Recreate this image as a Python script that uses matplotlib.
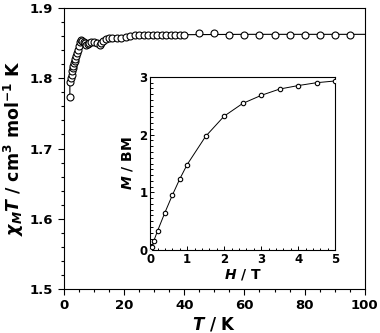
import matplotlib
matplotlib.use("Agg")
import matplotlib.pyplot as plt
from matplotlib.ticker import MultipleLocator

# ---- data: chi_M T vs T ----
T_main = [2.0, 2.2, 2.4, 2.6, 2.8, 3.0, 3.2, 3.4, 3.6, 3.8, 4.0, 4.3, 4.6, 5.0,
          5.4, 5.8, 6.2, 6.6, 7.0, 7.5, 8.0, 8.5, 9.0, 10.0, 11.0, 12.0, 12.5,
          13.0, 14.0, 15.0, 16.0, 17.5, 19.0, 20.5, 22.0, 23.5, 25.0, 26.5,
          28.0, 29.5, 31.0, 32.5, 34.0, 35.5, 37.0, 38.5, 40.0,
          45, 50, 55, 60, 65, 70, 75, 80, 85, 90, 95]
chiT_main = [1.774, 1.795, 1.800, 1.805, 1.810, 1.814, 1.818, 1.822, 1.825,
             1.828, 1.832, 1.836, 1.840, 1.846, 1.851, 1.854, 1.853, 1.852,
             1.850, 1.848, 1.849, 1.850, 1.851, 1.851, 1.850, 1.848, 1.850,
             1.853, 1.856, 1.857, 1.857, 1.858, 1.858, 1.859, 1.860, 1.861,
             1.861, 1.861, 1.862, 1.862, 1.862, 1.862, 1.862, 1.862, 1.862,
             1.862, 1.862,
             1.864, 1.864, 1.862, 1.862, 1.861, 1.861, 1.862, 1.862, 1.862,
             1.861, 1.861]
# solid line (fit) through the data
T_fit = [2.0, 2.0, 2.2, 3.0, 4.0, 5.0, 5.8, 7.0, 9.0, 12.0, 14.0, 20.0, 30.0,
         40.0, 60.0, 100.0]
chiT_fit = [1.774, 1.795, 1.798, 1.814, 1.832, 1.846, 1.853, 1.850, 1.850,
            1.850, 1.855, 1.859, 1.861, 1.862, 1.8625, 1.8625]

# ---- inset: M vs H ----
H_in = [0.0, 0.05, 0.1, 0.2, 0.4, 0.6, 0.8, 1.0, 1.5, 2.0, 2.5, 3.0, 3.5,
        4.0, 4.5, 5.0]
M_in = [0.0, 0.06, 0.16, 0.33, 0.65, 0.95, 1.23, 1.48, 1.97, 2.32, 2.54,
        2.68, 2.79, 2.85, 2.90, 2.93]

plt.rcParams['font.family'] = ['DejaVu Sans']
plt.rcParams['font.weight'] = 'bold'
plt.rcParams['axes.labelweight'] = 'bold'
plt.rcParams['mathtext.fontset'] = 'custom'
plt.rcParams['mathtext.rm'] = 'DejaVu Sans:bold'
plt.rcParams['mathtext.it'] = 'DejaVu Sans:italic:bold'
plt.rcParams['mathtext.bf'] = 'DejaVu Sans:bold'
plt.rcParams['mathtext.default'] = 'rm'

fig = plt.figure(figsize=(3.8, 3.33), dpi=100)
ax = fig.add_axes([0.168, 0.132, 0.792, 0.844])
ax.plot(T_fit, chiT_fit, '-', color='black', lw=0.8, zorder=2)
ax.plot(T_main, chiT_main, 'o', mfc='white', mec='black', ms=5, mew=0.8,
        zorder=3, ls='none')
ax.set_xlim(0, 100)
ax.set_ylim(1.5, 1.9)
ax.xaxis.set_major_locator(MultipleLocator(20))
ax.xaxis.set_minor_locator(MultipleLocator(5))
ax.yaxis.set_major_locator(MultipleLocator(0.1))
ax.yaxis.set_minor_locator(MultipleLocator(0.02))
ax.tick_params(which='both', direction='out', top=False, right=False,
               labelsize=9.5, width=0.8)
ax.tick_params(which='major', length=4)
ax.tick_params(which='minor', length=2.5)
for lab in ax.get_xticklabels() + ax.get_yticklabels():
    lab.set_fontweight('bold')
for s in ax.spines.values():
    s.set_linewidth(0.8)
ax.set_xlabel(r'$\mathit{T}$ / K', fontsize=12, labelpad=2, fontweight='bold')
ax.set_ylabel(r'$\mathit{\chi}_{\mathit{M}}\mathit{T}$ / cm$^{3}$ mol$^{-1}$ K',
              fontsize=12.5, labelpad=3, fontweight='bold')

ins = fig.add_axes([0.395, 0.249, 0.487, 0.520])
ins.plot(H_in, M_in, '-', color='black', lw=0.7, zorder=2)
ins.plot(H_in, M_in, 'o', mfc='white', mec='black', ms=3.2, mew=0.8,
         zorder=3, ls='none')
ins.set_xlim(0, 5)
ins.set_ylim(0, 3)
ins.xaxis.set_major_locator(MultipleLocator(1))
ins.xaxis.set_minor_locator(MultipleLocator(0.2))
ins.yaxis.set_major_locator(MultipleLocator(1))
ins.yaxis.set_minor_locator(MultipleLocator(0.1))
ins.tick_params(which='both', direction='in', top=False, right=False,
                labelsize=8.5, width=0.7, pad=2)
ins.tick_params(which='major', length=3)
ins.tick_params(which='minor', length=1.8)
for lab in ins.get_xticklabels() + ins.get_yticklabels():
    lab.set_fontweight('bold')
for s in ins.spines.values():
    s.set_linewidth(0.8)
ins.set_xlabel(r'$\mathit{H}$ / T', fontsize=10, labelpad=1, fontweight='bold')
ins.set_ylabel(r'$\mathit{M}$ / BM', fontsize=10, labelpad=3, fontweight='bold')

fig.savefig('out.png', dpi=100)
